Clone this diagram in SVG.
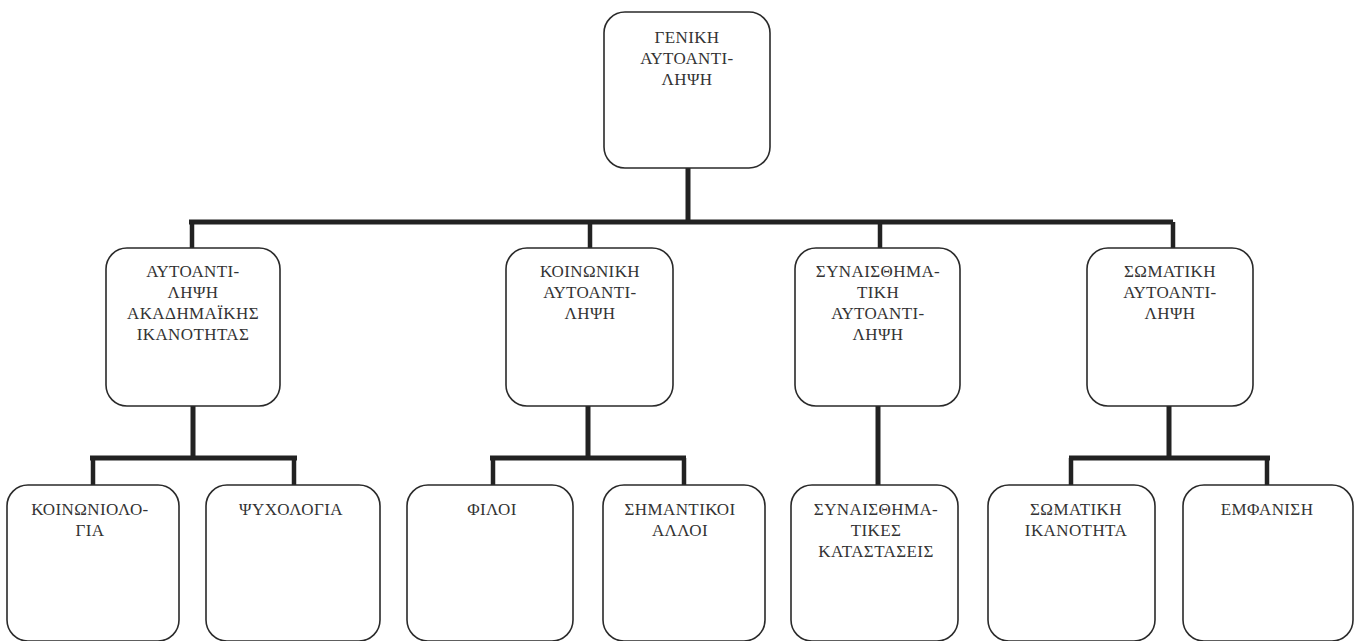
<svg xmlns="http://www.w3.org/2000/svg" width="1358" height="641" viewBox="0 0 1358 641">
<style>
.box{fill:#fff;stroke:#2a2a2a;stroke-width:1.6}
.t{font-family:"Liberation Serif","Times New Roman",serif;font-size:17px;letter-spacing:0.4px;fill:#333;text-anchor:middle}
.c{stroke:#222;fill:none;stroke-linecap:butt}
.m{stroke-width:5}
.s{stroke-width:4.5}
</style>
<rect width="1358" height="641" fill="#fff"/>
<g id="connectors">
<path class="c m" d="M688 168V222M189 222H1173"/>
<path class="c s" d="M192 222V248M590 222V248M880 222V248M1173 222V248"/>
<path class="c m" d="M193 406V458M90 458H297"/>
<path class="c s" d="M93 458V485M294 458V485"/>
<path class="c m" d="M588 406V458M490 458H686"/>
<path class="c s" d="M493 458V485M684 458V485"/>
<path class="c m" d="M878 406V485"/>
<path class="c m" d="M1169 406V458M1069 458H1270"/>
<path class="c s" d="M1071 458V485M1267 458V485"/>
</g>
<g id="n-root">
<rect class="box" x="604" y="12" width="166" height="156" rx="21"/>
<text class="t" x="687" y="43">ΓΕΝΙΚΗ</text>
<text class="t" x="687" y="64">ΑΥΤΟΑΝΤΙ-</text>
<text class="t" x="687" y="85">ΛΗΨΗ</text>
</g>
<g id="n-academic">
<rect class="box" x="106" y="248" width="174" height="158" rx="21"/>
<text class="t" x="193" y="277">ΑΥΤΟΑΝΤΙ-</text>
<text class="t" x="193" y="298">ΛΗΨΗ</text>
<text class="t" x="193" y="319">ΑΚΑΔΗΜΑΪΚΗΣ</text>
<text class="t" x="193" y="340">ΙΚΑΝΟΤΗΤΑΣ</text>
</g>
<g id="n-social">
<rect class="box" x="506" y="248" width="167" height="158" rx="21"/>
<text class="t" x="590" y="277">ΚΟΙΝΩΝΙΚΗ</text>
<text class="t" x="590" y="298">ΑΥΤΟΑΝΤΙ-</text>
<text class="t" x="590" y="319">ΛΗΨΗ</text>
</g>
<g id="n-emotional">
<rect class="box" x="795" y="248" width="165" height="158" rx="21"/>
<text class="t" x="878" y="277">ΣΥΝΑΙΣΘΗΜΑ-</text>
<text class="t" x="878" y="298">ΤΙΚΗ</text>
<text class="t" x="878" y="319">ΑΥΤΟΑΝΤΙ-</text>
<text class="t" x="878" y="340">ΛΗΨΗ</text>
</g>
<g id="n-physical">
<rect class="box" x="1087" y="248" width="166" height="158" rx="21"/>
<text class="t" x="1170" y="277">ΣΩΜΑΤΙΚΗ</text>
<text class="t" x="1170" y="298">ΑΥΤΟΑΝΤΙ-</text>
<text class="t" x="1170" y="319">ΛΗΨΗ</text>
</g>
<g id="n-sociology">
<rect class="box" x="7" y="485" width="172" height="156" rx="21"/>
<text class="t" x="90" y="515">ΚΟΙΝΩΝΙΟΛΟ-</text>
<text class="t" x="90" y="536">ΓΙΑ</text>
</g>
<g id="n-psychology">
<rect class="box" x="206" y="485" width="174" height="156" rx="21"/>
<text class="t" x="291" y="515">ΨΥΧΟΛΟΓΙΑ</text>
</g>
<g id="n-friends">
<rect class="box" x="407" y="485" width="166" height="156" rx="21"/>
<text class="t" x="492" y="515">ΦΙΛΟΙ</text>
</g>
<g id="n-others">
<rect class="box" x="603" y="485" width="162" height="156" rx="21"/>
<text class="t" x="680" y="515">ΣΗΜΑΝΤΙΚΟΙ</text>
<text class="t" x="680" y="536">ΑΛΛΟΙ</text>
</g>
<g id="n-states">
<rect class="box" x="791" y="485" width="167" height="156" rx="21"/>
<text class="t" x="876" y="515">ΣΥΝΑΙΣΘΗΜΑ-</text>
<text class="t" x="876" y="536">ΤΙΚΕΣ</text>
<text class="t" x="876" y="557">ΚΑΤΑΣΤΑΣΕΙΣ</text>
</g>
<g id="n-ability">
<rect class="box" x="988" y="485" width="167" height="156" rx="21"/>
<text class="t" x="1076" y="515">ΣΩΜΑΤΙΚΗ</text>
<text class="t" x="1076" y="536">ΙΚΑΝΟΤΗΤΑ</text>
</g>
<g id="n-appearance">
<rect class="box" x="1183" y="485" width="170" height="156" rx="21"/>
<text class="t" x="1267" y="515">ΕΜΦΑΝΙΣΗ</text>
</g>
</svg>
